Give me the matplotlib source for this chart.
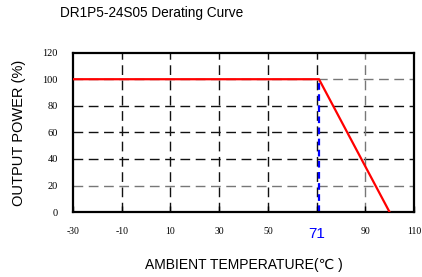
import matplotlib
matplotlib.use("Agg")
import matplotlib.pyplot as plt

# derating curve
temp = [-30, 71, 100]
power = [100, 100, 0]
knee_temp = 71

x_ticks = [-30, -10, 10, 30, 50, 70, 90, 110]
x_labels = ["-30", "-10", "10", "30", "50", "71", "90", "110"]
y_ticks = [0, 20, 40, 60, 80, 100, 120]
y_labels = ["0", "20", "40", "60", "80", "100", "120"]

SANS = ["Liberation Sans", "DejaVu Sans"]
SERIF = ["Liberation Serif", "DejaVu Serif"]

fig = plt.figure(figsize=(4.22, 2.77), dpi=100)
ax = fig.add_axes([0.173, 0.234, 0.808, 0.576])

# grid: dashed, some lines a bit lighter like the original scan
for y in y_ticks[1:-1]:
    c = "#777777" if y in (20, 100) else "#111111"
    ax.axhline(y, color=c, lw=1.0, ls=(0, (7, 4)), zorder=1)
for x in x_ticks[1:-1]:
    c = "#777777" if x == 90 else "#111111"
    ax.axvline(x, color=c, lw=1.0, ls=(0, (7, 4)), zorder=1)

ax.plot(temp, power, color="#ff0000", lw=1.6, zorder=3)
ax.plot([knee_temp, knee_temp], [0, 100], color="#0000ff", lw=1.6,
        ls=(0, (3, 2)), zorder=2)

ax.set_xlim(-30, 110)
ax.set_ylim(0, 120)
ax.set_xticks(x_ticks)
ax.set_xticklabels(x_labels, family=SERIF, fontsize=7)
ax.set_yticks(y_ticks)
ax.set_yticklabels(y_labels, family=SERIF, fontsize=7.5)
for lbl in ax.get_xticklabels():
    if lbl.get_text() == "71":
        lbl.set_color("#0000ff")
        lbl.set_fontsize(11)
        lbl.set_family(SANS)
ax.tick_params(axis="x", direction="in", length=4, width=1, pad=11)
ax.tick_params(axis="y", length=0, pad=11)
for s in ax.spines.values():
    s.set_linewidth(1.6)

ax.set_xlabel("AMBIENT TEMPERATURE(\u2103 )", family=SANS, fontsize=10, labelpad=12)
ax.set_ylabel("OUTPUT POWER (%)", family=SANS, fontsize=10.5, labelpad=12)
fig.text(0.142, 0.953, "DR1P5-24S05 Derating Curve", family=SANS, fontsize=9.8,
         va="center", ha="left")

fig.savefig("out.png", dpi=100)
